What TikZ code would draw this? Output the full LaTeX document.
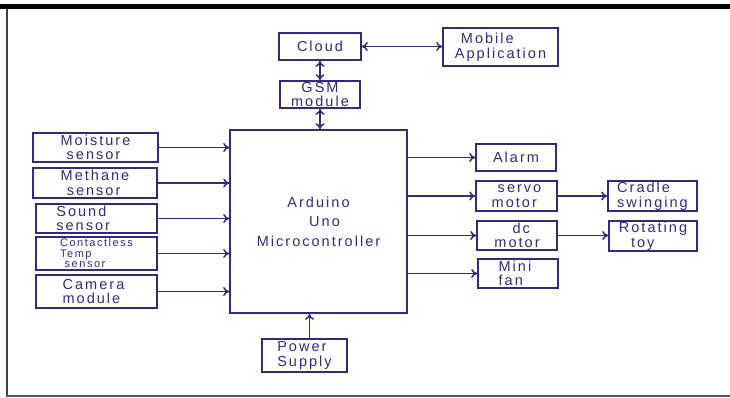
\documentclass[tikz,border=0pt]{standalone}
\usepackage{fontspec}
\setmainfont{Liberation Sans}[LetterSpace=14]
\usetikzlibrary{arrows.meta}
\definecolor{ink}{RGB}{52,42,122}
\tikzset{
  blk/.style={draw=ink, line width=1.6pt, inner sep=0pt, text=ink, align=left,
    font=\fontsize{14.5}{14.5}\selectfont},
  conn/.style={draw=ink, line width=1.5pt, -{To[length=6pt,width=9pt]}},
  bconn/.style={draw=ink, line width=1.5pt, {To[length=6pt,width=9pt]}-{To[length=6pt,width=9pt]}}
}
\begin{document}
\begin{tikzpicture}[x=1pt,y=-1pt]
\useasboundingbox (0,0) rectangle (730,397);
% frame
\fill[black] (0,4) rectangle (730,9);
\draw[line width=2pt, black!75] (7,9) -- (7,397);
\draw[line width=1.5pt, black!65] (6,396) -- (730,396);
% nodes
\node[blk, minimum width=82pt, minimum height=27pt] (cloud) at (320,46.5) {Cloud};
\node[blk, minimum width=115pt, minimum height=38pt] (mobile) at (500.5,47) {\ Mobile\\Application};
\node[blk, minimum width=80pt, minimum height=27pt, align=center] (gsm) at (320,94.5) {GSM\\module};
\node[blk, minimum width=177pt, minimum height=183pt, align=center] (ard) at (318.5,221.5) {Arduino\\[5pt]\ \ Uno\\[5pt]Microcontroller};
\node[blk, minimum width=125pt, minimum height=29pt] (moist) at (95.5,147.5) {Moisture\\\ sensor};
\node[blk, minimum width=124pt, minimum height=30pt] (meth) at (95,183) {Methane\\\ sensor};
\node[blk, minimum width=121pt, minimum height=29pt] (sound) at (96.5,218.5) {Sound\ \ \ \ \ \ \\sensor};
\node[blk, minimum width=121pt, minimum height=33pt, font=\fontsize{11}{10.5}\selectfont] (temp) at (96.5,253.5) {Contactless\\Temp\\\ sensor};
\node[blk, minimum width=121pt, minimum height=33pt] (cam) at (96.5,291.5) {Camera\ \ \\module};
\node[blk, minimum width=80pt, minimum height=27pt] (alarm) at (516,157.5) {Alarm};
\node[blk, minimum width=81pt, minimum height=30pt] (servo) at (516.5,196) {\ servo\\motor};
\node[blk, minimum width=80pt, minimum height=29pt] (dc) at (517,235.5) {\ \ \ dc\\motor};
\node[blk, minimum width=80pt, minimum height=29pt] (fan) at (518,273.5) {Mini\ \ \\fan};
\node[blk, minimum width=89pt, minimum height=30pt] (cradle) at (652.5,196) {Cradle\\swinging};
\node[blk, minimum width=88pt, minimum height=30pt] (rot) at (653,236) {Rotating\\\ \ toy};
\node[blk, minimum width=85pt, minimum height=33pt] (power) at (304.5,355.5) {Power\\Supply};
% connectors
\draw[bconn] (cloud.east) -- (mobile.west |- cloud.east);
\draw[bconn] (cloud.south) -- (gsm.north);
\draw[bconn] (gsm.south) -- (gsm.south |- ard.north);
\foreach \s in {moist,meth,sound,temp,cam}
  \draw[conn] (\s.east) -- (ard.west |- \s.east);
\foreach \o in {alarm,servo,dc,fan}
  \draw[conn] (ard.east |- \o.west) -- (\o.west);
\draw[conn] (servo.east) -- (cradle.west |- servo.east);
\draw[conn] (dc.east) -- (rot.west |- dc.east);
\draw[conn] (power.north -| 309.5,0) -- (ard.south -| 309.5,0);
\end{tikzpicture}
\end{document}
